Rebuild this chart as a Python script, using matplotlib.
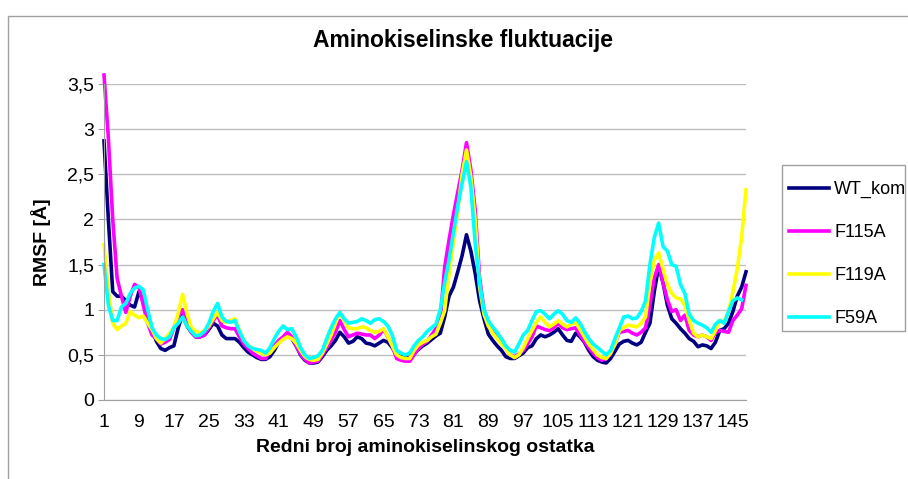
import numpy as np
import matplotlib
matplotlib.use("Agg")
import matplotlib.pyplot as plt
from matplotlib.patches import Rectangle
from matplotlib.ticker import FuncFormatter

plt.rcParams["font.family"] = ["Liberation Sans", "DejaVu Sans"]

# redni broj ostatka 1..148
residues = np.arange(1, 149)

wt_kom = [
    2.87, 2.00, 1.20, 1.15, 1.15, 1.10, 1.05, 1.03, 1.20, 1.10,
    0.95, 0.78, 0.65, 0.57, 0.55, 0.58, 0.60, 0.80, 0.95, 0.82,
    0.75, 0.70, 0.70, 0.72, 0.78, 0.85, 0.82, 0.72, 0.68, 0.68,
    0.68, 0.64, 0.58, 0.53, 0.50, 0.47, 0.45, 0.45, 0.48, 0.55,
    0.64, 0.68, 0.72, 0.68, 0.60, 0.50, 0.44, 0.41, 0.41, 0.42,
    0.48, 0.55, 0.60, 0.66, 0.75, 0.70, 0.63, 0.65, 0.70, 0.68,
    0.63, 0.62, 0.60, 0.63, 0.66, 0.64, 0.58, 0.50, 0.48, 0.47,
    0.47, 0.52, 0.56, 0.60, 0.63, 0.67, 0.71, 0.74, 0.92, 1.15,
    1.25, 1.42, 1.60, 1.83, 1.65, 1.40, 1.10, 0.90, 0.73, 0.66,
    0.60, 0.55, 0.48, 0.46, 0.46, 0.49, 0.52, 0.58, 0.60, 0.68,
    0.72, 0.70, 0.72, 0.75, 0.79, 0.72, 0.66, 0.65, 0.74, 0.70,
    0.64, 0.55, 0.48, 0.44, 0.42, 0.41, 0.46, 0.54, 0.62, 0.65,
    0.66, 0.63, 0.61, 0.64, 0.75, 0.85, 1.20, 1.48, 1.30, 1.05,
    0.90, 0.85, 0.79, 0.74, 0.68, 0.65, 0.59, 0.61, 0.60, 0.57,
    0.64, 0.77, 0.79, 0.85, 0.98, 1.15, 1.25, 1.42,
]

f115a = [
    3.60, 2.90, 2.00, 1.35, 1.15, 0.97, 1.15, 1.28, 1.25, 1.05,
    0.85, 0.72, 0.68, 0.62, 0.64, 0.67, 0.80, 0.93, 1.00, 0.85,
    0.75, 0.70, 0.70, 0.72, 0.80, 0.88, 0.94, 0.82, 0.80, 0.79,
    0.79, 0.70, 0.62, 0.57, 0.52, 0.49, 0.46, 0.46, 0.55, 0.60,
    0.66, 0.70, 0.75, 0.70, 0.60, 0.51, 0.45, 0.41, 0.42, 0.43,
    0.50, 0.58, 0.66, 0.75, 0.88, 0.78, 0.70, 0.72, 0.74, 0.73,
    0.72, 0.72, 0.68, 0.72, 0.78, 0.70, 0.60, 0.46, 0.44, 0.43,
    0.43, 0.50, 0.57, 0.62, 0.65, 0.72, 0.79, 0.90, 1.47, 1.77,
    2.05, 2.30, 2.55, 2.85, 2.55, 2.10, 1.35, 1.00, 0.85, 0.75,
    0.70, 0.65, 0.58, 0.50, 0.48, 0.51, 0.55, 0.62, 0.70, 0.82,
    0.80, 0.78, 0.77, 0.80, 0.85, 0.80, 0.78, 0.79, 0.80, 0.72,
    0.65, 0.58, 0.52, 0.47, 0.44, 0.46, 0.51, 0.62, 0.75, 0.76,
    0.77, 0.74, 0.72, 0.75, 0.80, 1.05, 1.35, 1.50, 1.30, 1.11,
    0.98, 1.00, 0.88, 0.94, 0.77, 0.72, 0.70, 0.72, 0.70, 0.66,
    0.75, 0.77, 0.76, 0.75, 0.88, 0.94, 1.01, 1.27,
]

f119a = [
    1.72, 1.20, 0.85, 0.78, 0.82, 0.85, 0.98, 0.94, 0.91, 0.93,
    0.85, 0.78, 0.68, 0.63, 0.68, 0.74, 0.80, 0.96, 1.17, 0.96,
    0.80, 0.76, 0.74, 0.77, 0.82, 0.90, 0.97, 0.88, 0.86, 0.88,
    0.90, 0.77, 0.66, 0.61, 0.57, 0.54, 0.52, 0.50, 0.52, 0.58,
    0.63, 0.67, 0.70, 0.68, 0.63, 0.55, 0.48, 0.45, 0.44, 0.45,
    0.52, 0.62, 0.72, 0.85, 0.97, 0.88, 0.80, 0.79, 0.79, 0.81,
    0.80, 0.77, 0.75, 0.76, 0.79, 0.70, 0.60, 0.50, 0.47, 0.46,
    0.46, 0.55, 0.61, 0.64, 0.66, 0.70, 0.73, 0.85, 0.99, 1.40,
    1.75, 2.10, 2.50, 2.77, 2.47, 1.99, 1.25, 0.95, 0.82, 0.74,
    0.68, 0.62, 0.57, 0.50, 0.47, 0.50, 0.58, 0.68, 0.77, 0.86,
    0.92, 0.86, 0.81, 0.84, 0.88, 0.84, 0.81, 0.84, 0.86, 0.78,
    0.70, 0.62, 0.56, 0.50, 0.47, 0.46, 0.52, 0.62, 0.77, 0.80,
    0.83, 0.82, 0.81, 0.85, 0.92, 1.30, 1.55, 1.63, 1.45, 1.28,
    1.18, 1.13, 1.12, 1.05, 0.88, 0.74, 0.70, 0.72, 0.70, 0.68,
    0.77, 0.88, 0.87, 0.98, 1.20, 1.45, 1.80, 2.33,
]

f59a = [
    1.50, 1.05, 0.88, 0.88, 1.03, 1.07, 1.18, 1.24, 1.26, 1.22,
    1.00, 0.80, 0.72, 0.68, 0.67, 0.70, 0.80, 0.85, 0.92, 0.82,
    0.76, 0.71, 0.72, 0.76, 0.85, 0.98, 1.07, 0.92, 0.87, 0.86,
    0.88, 0.76, 0.66, 0.60, 0.57, 0.56, 0.55, 0.52, 0.58, 0.68,
    0.76, 0.82, 0.78, 0.79, 0.70, 0.58, 0.50, 0.46, 0.47, 0.49,
    0.55, 0.68, 0.80, 0.90, 0.97, 0.90, 0.85, 0.86, 0.87, 0.90,
    0.88, 0.85, 0.89, 0.90, 0.87, 0.82, 0.72, 0.55, 0.52, 0.50,
    0.52, 0.60, 0.66, 0.70, 0.76, 0.80, 0.84, 1.00, 1.30, 1.55,
    1.85, 2.15, 2.40, 2.64, 2.36, 1.73, 1.30, 1.00, 0.88, 0.81,
    0.75, 0.68, 0.60, 0.55, 0.53, 0.62, 0.72, 0.77, 0.88, 0.98,
    0.99, 0.95, 0.90, 0.95, 0.99, 0.95, 0.88, 0.86, 0.91, 0.85,
    0.76, 0.68, 0.62, 0.58, 0.54, 0.50, 0.55, 0.68, 0.80, 0.92,
    0.93, 0.90, 0.91, 0.98, 1.10, 1.50, 1.80, 1.96, 1.70, 1.65,
    1.50, 1.48, 1.28, 1.18, 0.95, 0.88, 0.85, 0.83, 0.80, 0.75,
    0.84, 0.88, 0.85, 0.98, 1.10, 1.13, 1.11, np.nan,
]

series_names = ["WT_kom", "F115A", "F119A", "F59A"]
series_colors = ["#000080", "#FF00FF", "#FFFF00", "#00FFFF"]
x_tick_labels = list(range(1, 149, 8))
y_ticks = [0, 0.5, 1, 1.5, 2, 2.5, 3, 3.5]

W, H = 908, 479
GRAY = "#A0A0A0"

fig = plt.figure(figsize=(W / 100, H / 100), dpi=100)
ax = fig.add_axes([104 / W, 1 - 400 / H, (746 - 104) / W, (400 - 84) / H])

# vanjski okvir grafikona
fig.patches.append(Rectangle((8 / W, -0.05), 1.1, 1 - 16 / H + 0.05,
                             transform=fig.transFigure, fill=False,
                             edgecolor=GRAY, lw=1.0))
# okvir legende
fig.patches.append(Rectangle((782 / W, 1 - 331 / H), (905 - 782) / W, (331 - 165) / H,
                             transform=fig.transFigure, fill=False,
                             edgecolor=GRAY, lw=1.0))

for data, name, color in zip([wt_kom, f115a, f119a, f59a], series_names, series_colors):
    ax.plot(residues, data, color=color, lw=2.6, label=name, clip_on=False,
            solid_joinstyle="round")

ax.set_xlim(1, 148)
ax.set_ylim(0, 3.5)
ax.set_xticks(x_tick_labels)
ax.set_yticks(y_ticks)
ax.yaxis.set_major_formatter(FuncFormatter(lambda v, p: f"{v:g}".replace(".", ",")))
ax.grid(axis="y", color="#BEBEBE", lw=1.0)
ax.set_axisbelow(True)

for side in ["top", "right"]:
    ax.spines[side].set_visible(False)
for side in ["left", "bottom"]:
    ax.spines[side].set_color(GRAY)

ax.tick_params(axis="x", length=0, pad=10, labelsize=14)
ax.tick_params(axis="y", length=4, color=GRAY, pad=3, labelsize=14)

# naslov je centriran na cijelom grafikonu, ne samo na osima
fig.text(463 / W, 1 - 40 / H, "Aminokiselinske fluktuacije", fontsize=16.5,
         fontweight="bold", ha="center", va="center")
ax.set_xlabel("Redni broj aminokiselinskog ostatka", fontsize=14, fontweight="bold", labelpad=6)
ax.set_ylabel("RMSF [Å]", fontsize=14, fontweight="bold", labelpad=12)

leg = fig.legend(loc="upper left", bbox_to_anchor=(789 / W, 1 - 181 / H),
                 frameon=False, fontsize=13, handlelength=2.2,
                 labelspacing=1.44, borderpad=0, handletextpad=0.3, borderaxespad=0)
for line in leg.get_lines():
    line.set_linewidth(2.6)

fig.savefig("out.png", dpi=100)
